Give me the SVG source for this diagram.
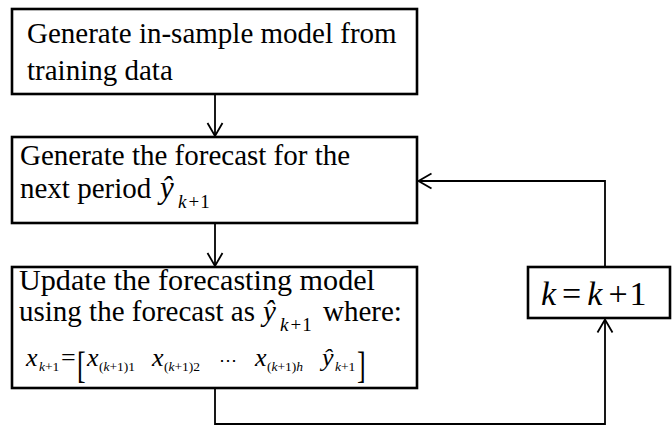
<svg xmlns="http://www.w3.org/2000/svg" width="672" height="426" viewBox="0 0 672 426">
<style>
.box{fill:#fff;stroke:#000;stroke-width:2.6}
.conn{fill:none;stroke:#000;stroke-width:1.8}
text{font-family:"Liberation Serif","Times New Roman",serif;fill:#000}
.t{font-size:29px}
.i{font-style:italic}
.y{font-size:31px;font-style:italic}
.y3{font-size:29px;font-style:italic}
.eq{font-size:26px}
.sub{font-size:13.5px}
.sub2{font-size:19px}
</style>
<defs>
<marker id="arr" markerUnits="userSpaceOnUse" markerWidth="20" markerHeight="20" viewBox="-15 -10 20 20" refX="0" refY="0" orient="auto">
<path d="M-13,-7.5 L0,0 L-13,7.5" fill="none" stroke="#000" stroke-width="1.8"/>
</marker>
</defs>
<g id="connectors">
<line class="conn" x1="215" y1="95" x2="215" y2="136" marker-end="url(#arr)"/>
<line class="conn" x1="215" y1="224" x2="215" y2="266" marker-end="url(#arr)"/>
<polyline class="conn" points="215,389 215,424 605,424 605,319.5" marker-end="url(#arr)"/>
<polyline class="conn" points="605,266 605,181 418.5,181" marker-end="url(#arr)"/>
</g>
<g id="node1">
<rect class="box" x="12" y="9" width="405" height="85"/>
<text class="t" x="27" y="43">Generate in-sample model from</text>
<text class="t" x="27" y="80">training data</text>
</g>
<g id="node2">
<rect class="box" x="12" y="137" width="405" height="86"/>
<text class="t" x="20" y="165">Generate the forecast for the</text>
<text class="t" x="20" y="198">next period</text>
<text class="y" x="160" y="198">ŷ</text>
<text class="sub2" x="178" y="208"><tspan class="i">k</tspan><tspan dx="2">+</tspan><tspan dx="1">1</tspan></text>
</g>
<g id="node3">
<rect class="box" x="12" y="267" width="405" height="121"/>
<text class="t" x="19" y="290" textLength="356" lengthAdjust="spacingAndGlyphs">Update the forecasting model</text>
<text class="t" x="19" y="321">using the forecast as</text>
<text class="y3" x="263" y="321">ŷ</text>
<text class="sub2" x="280" y="331"><tspan class="i">k</tspan><tspan dx="2">+</tspan><tspan dx="1">1</tspan></text>
<text class="t" x="323" y="321">where:</text>
<text class="eq i" x="26" y="366">x</text>
<text class="sub" x="39" y="371"><tspan class="i">k</tspan>+1</text>
<text class="eq" x="61" y="366">=</text>
<text class="eq" transform="translate(77,378) scale(1,1.45)" font-size="30">[</text>
<text class="eq i" x="87" y="366">x</text>
<text class="sub" x="99" y="371">(<tspan class="i">k</tspan>+1)1</text>
<text class="eq i" x="152" y="366">x</text>
<text class="sub" x="164" y="371">(<tspan class="i">k</tspan>+1)2</text>
<text x="219" y="366" style="font-family:'DejaVu Serif',serif;font-size:18px">⋯</text>
<text class="eq i" x="255" y="366">x</text>
<text class="sub" x="267" y="371">(<tspan class="i">k</tspan>+1)<tspan class="i">h</tspan></text>
<text class="eq i" x="322" y="366">ŷ</text>
<text class="sub" x="335" y="371"><tspan class="i">k</tspan>+1</text>
<text class="eq" transform="translate(357,378) scale(1,1.45)" font-size="30">]</text>
</g>
<g id="node4">
<rect class="box" x="528" y="267" width="142" height="51"/>
<text x="541" y="305" style="font-size:34px"><tspan class="i">k</tspan><tspan dx="6">=</tspan><tspan class="i" dx="6">k</tspan><tspan dx="6">+</tspan><tspan dx="2">1</tspan></text>
</g>
</svg>
